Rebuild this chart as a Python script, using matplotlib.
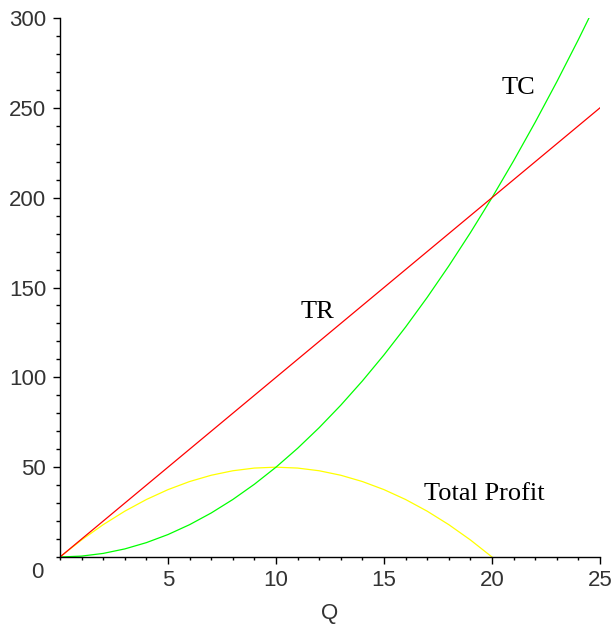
import matplotlib
matplotlib.use("Agg")
import matplotlib.pyplot as plt
from matplotlib.ticker import MultipleLocator

# Data
q_tr = [0, 25]
tr = [0, 250]

q_tc = [0, 1, 2, 3, 4, 5, 6, 7, 8, 9, 10, 11, 12, 13, 14, 15, 16, 17, 18,
        19, 20, 21, 22, 23, 24, 25]
tc = [0, 0.5, 2, 4.5, 8, 12.5, 18, 24.5, 32, 40.5, 50, 60.5, 72, 84.5, 98,
      112.5, 128, 144.5, 162, 180.5, 200, 220.5, 242, 264.5, 288, 312.5]

q_pr = [0, 1, 2, 3, 4, 5, 6, 7, 8, 9, 10, 11, 12, 13, 14, 15, 16, 17, 18,
        19, 20]
profit = [0, 9.5, 18, 25.5, 32, 37.5, 42, 45.5, 48, 49.5, 50, 49.5, 48,
          45.5, 42, 37.5, 32, 25.5, 18, 9.5, 0]

x_ticks = [5, 10, 15, 20, 25]
y_ticks = [50, 100, 150, 200, 250, 300]

fig = plt.figure(figsize=(6.12, 6.26), dpi=100)
ax = fig.add_axes([60 / 612, 1 - 557 / 626, 540 / 612, 539 / 626])

lw = 0.9
ax.plot(q_pr, profit, color=(1, 1, 0), lw=lw, clip_on=True)
ax.plot(q_tc, tc, color=(0, 1, 0), lw=lw, clip_on=True)
ax.plot(q_tr, tr, color=(1, 0, 0), lw=lw, clip_on=True)

ax.set_xlim(0, 25)
ax.set_ylim(0, 300)

for s in ["top", "right"]:
    ax.spines[s].set_visible(False)
for s in ["left", "bottom"]:
    ax.spines[s].set_linewidth(1.0)
    ax.spines[s].set_color("black")

ax.set_xticks(x_ticks)
ax.set_yticks(y_ticks)
ax.xaxis.set_minor_locator(MultipleLocator(1))
ax.yaxis.set_minor_locator(MultipleLocator(10))

sans = ["Liberation Sans", "DejaVu Sans"]
tickfont = {"family": sans, "size": 16}
ax.set_xticklabels([str(v) for v in x_ticks], fontdict=tickfont)
ax.set_yticklabels([str(v) for v in y_ticks], fontdict=tickfont)
ax.tick_params(axis="x", which="major", length=5, width=1, pad=4, colors="black")
ax.tick_params(axis="x", which="minor", length=2.5, width=1)
ax.tick_params(axis="y", which="major", length=5, width=1, pad=5)
ax.tick_params(axis="y", which="minor", length=3, width=1)
for lab in ax.get_xticklabels() + ax.get_yticklabels():
    lab.set_color("#333333")

# corner zero label
ax.text(-0.75, -3, "0", ha="right", va="top", color="#333333", fontsize=16,
        family=sans)

ax.set_xlabel("Q", fontsize=16, family=sans, color="#333333", labelpad=9)

serif = ["Liberation Serif", "DejaVu Serif"]
ax.text(21.23, 261, "TC", fontsize=19, family=serif, ha="center", va="center")
ax.text(11.94, 136.4, "TR", fontsize=19, family=serif, ha="center", va="center")
ax.text(19.65, 35, "Total Profit", fontsize=19, family=serif, ha="center",
        va="center")

fig.savefig("out.png", dpi=100)
